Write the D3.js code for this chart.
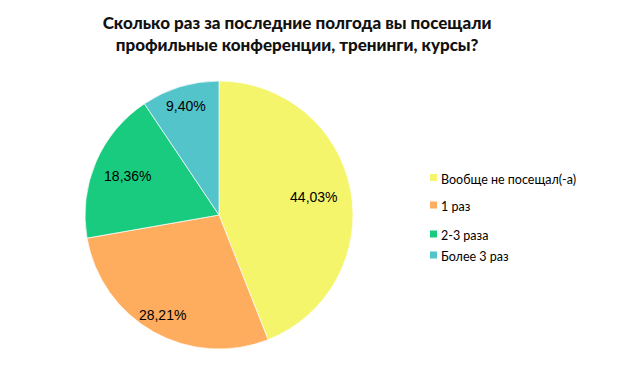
<!DOCTYPE html>
<html><head><meta charset="utf-8">
<script src="https://cdn.jsdelivr.net/npm/d3@7"></script>
<style>body{margin:0;background:#fff}</style>
</head><body>
<svg id="c" width="635" height="372"></svg>
<script>
const titleLines = ["Сколько раз за последние полгода вы посещали", "профильные конференции, тренинги, курсы?"];
const categories = ["Вообще не посещал(-а)", "1 раз", "2-3 раза", "Более 3 раз"];
const values = [44.03, 28.21, 18.36, 9.40];
const valueLabels = ["44,03%", "28,21%", "18,36%", "9,40%"];
const colors = ["#F5F56B", "#FEAC5E", "#19CB7E", "#52C4CA"];
const labelRadii = [0.72, 0.86, 0.74, 0.85];
const legendRows = [177.5, 205, 234, 255];

const svg = d3.select("#c");
const cx = 219, cy = 215, R = 134;

svg.append("g").selectAll("text").data(titleLines).join("text")
  .attr("x", 297).attr("y", (d, i) => 29 + i * 22)
  .attr("text-anchor", "middle")
  .attr("font-family", "Lato, sans-serif").attr("font-weight", 900).attr("font-size", 17)
  .attr("fill", "#111").text(d => d);

const data = categories.map((c, i) => ({c, v: values[i], lab: valueLabels[i], col: colors[i], lr: labelRadii[i], ly: legendRows[i]}));
const pie = d3.pie().sort(null).value(d => d.v);
const arc = d3.arc().innerRadius(0).outerRadius(R);
const arcs = pie(data);
const g = svg.append("g").attr("transform", `translate(${cx},${cy})`);
g.selectAll("path").data(arcs).join("path")
  .attr("d", arc).attr("fill", d => d.data.col)
  .attr("stroke", "#fff").attr("stroke-width", 0.7);
g.selectAll("text").data(arcs).join("text")
  .attr("transform", d => {
    const a = (d.startAngle + d.endAngle) / 2, r = R * d.data.lr;
    return `translate(${Math.sin(a) * r},${-Math.cos(a) * r})`;
  })
  .attr("text-anchor", "middle").attr("dy", "0.35em")
  .attr("font-family", "'Liberation Sans', Arial, sans-serif").attr("font-size", 14)
  .attr("fill", "#000").text(d => d.data.lab);

const leg = svg.append("g").selectAll("g").data(data).join("g")
  .attr("transform", d => `translate(430,${d.ly})`);
leg.append("rect").attr("x", 0).attr("y", -3.5).attr("width", 7).attr("height", 7).attr("fill", d => d.col);
leg.append("text").attr("x", 11).attr("y", 1).attr("dy", "0.4em")
  .attr("font-family", "Lato, sans-serif").attr("font-size", 12.5).attr("fill", "#000")
  .text(d => d.c);
</script>
</body></html>
